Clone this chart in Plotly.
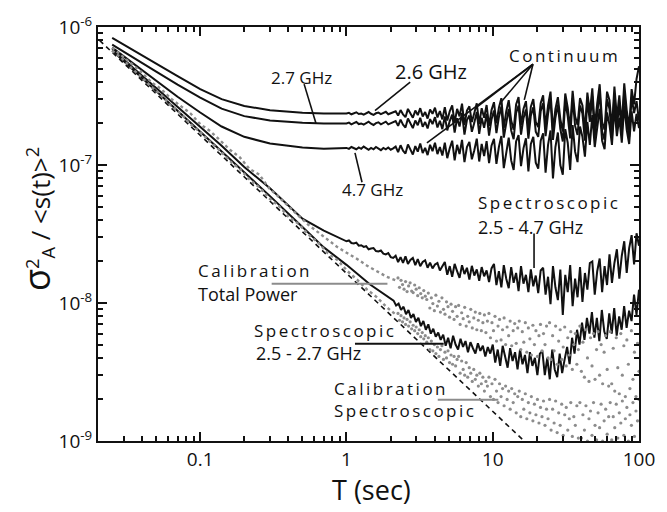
import numpy as np
import plotly.graph_objects as go

# ---------------- data ----------------
t_early = [0.025, 0.035, 0.05, 0.07, 0.1, 0.14, 0.2, 0.3, 0.5, 0.7]

# Continuum 2.6 GHz  (x1e-7)
c26_early = [8.35, 6.75, 5.45, 4.40, 3.55, 3.00, 2.68, 2.49, 2.39, 2.36]
c26_late = [2.36, 2.39, 2.33, 2.37, 2.41, 2.34, 2.36, 2.32, 2.38, 2.42, 2.35, 2.31, 2.37, 2.40, 2.34, 2.38, 2.43, 2.33, 2.36, 2.39,
            2.45, 2.28, 2.50, 2.33, 2.22, 2.55, 2.38, 2.20, 2.48, 2.30, 2.58, 2.25, 2.42, 2.17, 2.52, 2.35, 2.60, 2.21, 2.46, 2.14,
            2.62, 2.10, 2.45, 2.70, 2.02, 2.55, 2.25, 2.78, 1.95, 2.48, 2.66, 2.05, 2.38, 2.80, 1.98, 2.58, 2.20, 2.72, 1.92, 2.50,
            2.85, 2.00, 2.60, 3.05, 1.85, 2.45, 2.95, 2.10, 1.80, 2.75, 3.10, 1.95, 2.55, 2.90, 1.82, 2.65, 3.00, 2.05, 1.88, 2.80,
            3.20, 1.90, 2.70, 3.40, 1.80, 2.55, 3.10, 2.15, 1.75, 3.30, 2.60, 1.85, 3.45, 2.25, 1.95, 3.05, 2.70, 1.78, 3.35, 2.40,
            3.60, 1.90, 2.80, 3.85, 2.05, 1.80, 3.40, 2.95, 1.85, 3.70, 2.20, 3.20, 1.95, 3.90, 2.50, 1.88, 3.55, 2.75, 4.20, 5.20]
# Continuum 2.7 GHz  (x1e-7)
c27_early = [7.44, 5.95, 4.75, 3.82, 3.08, 2.56, 2.26, 2.10, 2.02, 2.00]
c27_late = [2.00, 2.03, 1.97, 2.01, 2.05, 1.98, 2.00, 1.96, 2.02, 2.06, 1.99, 1.95, 2.01, 2.04, 1.97, 2.02, 2.06, 1.97, 2.00, 2.03,
            2.08, 1.92, 2.13, 1.96, 1.87, 2.17, 2.01, 1.85, 2.10, 1.94, 2.20, 1.89, 2.05, 1.84, 2.15, 1.98, 2.22, 1.87, 2.09, 1.82,
            2.25, 1.78, 2.08, 2.32, 1.72, 2.18, 1.90, 2.38, 1.66, 2.12, 2.28, 1.74, 2.02, 2.42, 1.68, 2.20, 1.86, 2.35, 1.63, 2.14,
            2.48, 1.70, 2.22, 2.65, 1.58, 2.08, 2.55, 1.78, 1.54, 2.38, 2.70, 1.66, 2.18, 2.52, 1.55, 2.28, 2.62, 1.74, 1.60, 2.45,
            2.80, 1.62, 2.35, 3.00, 1.52, 2.20, 2.75, 1.82, 1.48, 2.90, 2.25, 1.56, 3.05, 1.92, 1.65, 2.70, 2.35, 1.50, 2.95, 2.05,
            3.15, 1.60, 2.45, 3.40, 1.75, 1.52, 3.00, 2.55, 1.58, 3.25, 1.88, 2.80, 1.65, 3.45, 2.15, 1.60, 3.10, 2.38, 2.90, 2.10]
# Continuum 4.7 GHz  (x1e-7)
c47_early = [7.09, 5.40, 4.08, 3.12, 2.40, 1.90, 1.60, 1.43, 1.34, 1.31]
c47_late = [1.33, 1.31, 1.35, 1.32, 1.30, 1.34, 1.31, 1.36, 1.32, 1.29, 1.33, 1.30, 1.35, 1.31, 1.28, 1.33, 1.30, 1.34, 1.29, 1.32,
            1.36, 1.24, 1.39, 1.27, 1.21, 1.41, 1.29, 1.19, 1.37, 1.25, 1.43, 1.22, 1.33, 1.18, 1.40, 1.26, 1.45, 1.20, 1.35, 1.17,
            1.45, 1.12, 1.32, 1.50, 1.08, 1.40, 1.20, 1.52, 1.05, 1.35, 1.47, 1.10, 1.28, 1.55, 1.06, 1.42, 1.16, 1.49, 1.03, 1.38,
            1.55, 1.02, 1.35, 1.62, 0.95, 1.28, 1.58, 1.08, 0.92, 1.48, 1.65, 0.98, 1.32, 1.56, 0.90, 1.42, 1.60, 1.04, 0.94, 1.50,
            1.70, 0.88, 1.40, 1.78, 0.80, 1.35, 1.72, 1.00, 0.85, 1.82, 1.45, 0.92, 1.95, 1.25, 1.05, 1.90, 1.60, 1.15, 2.05, 1.40,
            2.30, 1.35, 1.85, 2.55, 1.50, 1.30, 2.40, 1.95, 1.40, 2.60, 1.62, 2.20, 1.45, 2.70, 1.80, 1.42, 2.45, 1.75, 2.35, 1.85]
cont_t_start, cont_t_end = 1.0, 100.0

# Spectroscopic 2.5 - 4.7 GHz (x1e-8)
s47_early = [69.7, 50.2, 36.1, 26.5, 19.1, 13.8, 9.68, 6.78, 4.08, 3.35]
s47_late = [2.80, 2.84, 2.72, 2.70, 2.74, 2.60, 2.62, 2.55, 2.58, 2.45, 2.48, 2.50, 2.38, 2.36, 2.40, 2.28, 2.25, 2.30, 2.15, 2.12,
            2.20, 1.98, 2.15, 1.95, 2.18, 1.92, 2.05, 2.12, 1.88, 2.08, 1.85, 1.98, 2.04, 1.80, 1.96, 1.78, 1.90, 1.95, 1.72, 1.86,
            1.98, 1.60, 1.85, 1.55, 1.92, 1.70, 1.52, 1.88, 1.62, 1.80, 1.48, 1.86, 1.58, 1.75, 1.45, 1.82, 1.56, 1.72, 1.42, 1.78,
            1.92, 1.35, 1.70, 1.30, 1.88, 1.50, 1.28, 1.82, 1.40, 1.65, 1.22, 1.85, 1.38, 1.60, 1.20, 1.75, 1.32, 1.58, 1.18, 1.72,
            1.80, 1.15, 1.55, 0.98, 1.85, 1.30, 1.05, 1.75, 0.82, 1.60, 1.20, 1.88, 0.95, 1.50, 1.10, 1.82, 1.02, 1.65, 1.25, 1.95,
            2.00, 1.15, 1.70, 2.10, 1.20, 1.85, 1.35, 2.25, 1.40, 1.95, 2.45, 1.50, 2.20, 2.80, 1.65, 2.50, 3.10, 1.90, 3.20, 2.60]

# Spectroscopic 2.5 - 2.7 GHz
s27_t_early = [0.025, 0.035, 0.05, 0.07, 0.1, 0.14, 0.2, 0.3, 0.5, 0.7, 1.0, 1.45]
s27_early = [67.5, 48.6, 34.4, 24.8, 17.6, 12.7, 8.96, 5.95, 3.55, 2.53, 1.89, 1.36]   # x1e-8
s27_late = [10.4, 9.6, 9.9, 8.9, 9.4, 8.3, 8.9, 7.8, 8.3, 7.3, 7.8, 6.8, 7.4, 6.4, 7.0, 6.0, 6.5, 5.7, 6.1, 5.4,
            5.9, 4.9, 5.6, 4.7, 5.8, 5.0, 4.6, 5.5, 4.8, 5.3, 4.4, 5.2, 4.7, 4.3, 5.1, 4.5, 4.9, 4.1, 4.8, 4.3,
            5.0, 3.7, 4.6, 3.5, 4.9, 4.0, 3.4, 4.7, 3.8, 4.4, 3.3, 4.6, 3.6, 4.2, 3.1, 4.4, 3.5, 4.0, 3.0, 4.3,
            4.5, 3.0, 4.0, 2.8, 4.6, 3.3, 2.9, 4.3, 3.1, 3.9, 4.8, 3.6, 5.6, 4.3, 6.4, 5.0, 7.2, 5.4, 7.8, 6.0,
            8.6, 5.6, 7.8, 5.3, 8.9, 6.2, 5.5, 8.4, 6.0, 9.2, 5.8, 8.0, 6.4, 9.5, 6.6, 8.8, 7.4, 11.5, 8.2, 12.5]  # x1e-9
s27_t_late_start = 2.1

# Calibration series (gray)
cal_t_early = (0.025, 2.2)
tp_early = [70.9, 62.1, 53.6, 47.0, 39.8, 35.5, 30.2, 26.5, 23.6, 19.7,
            17.6, 15.1, 12.9, 11.4, 9.37, 8.53, 6.78, 5.85, 4.96, 4.28,
            3.69, 3.24, 2.84, 2.53, 2.29, 2.08, 1.86, 1.70, 1.55, 1.45]   # x1e-8
tp_late = [15.2, 13.0, 14.6, 13.6, 12.6, 14.3, 12.1, 13.3, 14.0, 12.2, 11.9, 13.5, 12.6, 11.3, 12.9, 11.7, 10.9, 12.3, 11.2, 10.6,
           11.8, 9.2, 10.9, 9.9, 8.8, 11.4, 9.5, 10.3, 8.6, 10.9, 9.0, 8.3, 10.2, 9.4, 7.9, 9.8, 8.7, 7.6, 9.4, 8.0,
           9.6, 7.0, 8.5, 7.7, 9.3, 6.8, 8.0, 7.3, 9.0, 6.6, 7.8, 8.6, 6.4, 7.5, 8.4, 6.3, 7.2, 8.2, 6.1, 7.4,
           8.4, 5.6, 7.2, 6.3, 8.0, 5.3, 6.8, 7.6, 5.4, 6.4, 7.8, 5.0, 6.7, 5.8, 7.4, 4.9, 6.3, 7.1, 5.1, 6.6,
           7.4, 4.6, 6.2, 5.2, 7.2, 4.4, 6.6, 5.5, 4.2, 6.9, 5.0, 6.3, 4.1, 5.8, 7.0, 4.5, 6.0, 5.0, 6.8, 4.0,
           7.2, 3.9, 5.8, 4.5, 6.8, 3.6, 5.3, 6.4, 3.9, 4.8, 6.7, 3.5, 5.6, 4.2, 6.2, 3.3, 5.0, 6.0, 3.6, 4.6,
           6.8, 3.2, 5.2, 2.9, 6.4, 4.0, 2.7, 5.6, 3.5, 6.0, 2.8, 4.6, 6.2, 3.0, 5.0, 2.6, 4.4, 5.8, 3.3, 2.5,
           6.2, 2.6, 4.7, 2.3, 5.6, 3.4, 2.2, 6.0, 3.0, 4.9, 2.1, 5.4, 3.6, 2.4, 6.3, 2.8, 4.4, 2.1, 5.1, 3.2]   # x1e-9
cs_early = [67.5, 59.1, 50.2, 43.3, 36.7, 32.2, 26.9, 23.6, 19.7, 17.3,
            14.7, 12.7, 10.7, 9.37, 7.86, 6.89, 5.75, 5.04, 4.21, 3.75,
            3.14, 2.74, 2.29, 2.04, 1.70, 1.47, 1.25, 1.10, 0.931, 0.816]  # x1e-8
cs_late = [8.4, 7.5, 8.1, 7.3, 7.8, 7.0, 7.6, 6.8, 7.3, 6.5, 6.9, 6.3, 6.7, 6.0, 6.4, 5.7, 6.1, 5.5, 5.8, 5.2,
           5.6, 4.6, 5.3, 4.5, 5.0, 4.3, 4.8, 4.1, 4.6, 4.9, 3.9, 4.4, 4.0, 4.5, 3.7, 4.2, 3.6, 4.1, 3.5, 3.9,
           4.1, 3.1, 3.8, 3.3, 3.0, 3.7, 2.9, 3.4, 3.1, 2.7, 3.3, 2.8, 3.0, 2.5, 3.1, 2.6, 2.9, 2.3, 2.7, 2.5,
           2.9, 2.1, 2.6, 2.0, 2.8, 2.3, 1.9, 2.6, 2.1, 2.4, 1.8, 2.5, 2.0, 2.3, 1.7, 2.4, 1.9, 2.2, 1.6, 2.1,
           2.3, 1.5, 2.0, 1.7, 2.2, 1.45, 1.9, 1.6, 2.1, 1.4, 1.85, 1.55, 2.0, 1.35, 1.75, 1.5, 1.95, 1.3, 1.7, 1.45,
           2.0, 1.2, 1.7, 1.35, 1.95, 1.15, 1.6, 1.3, 1.85, 1.1, 1.55, 1.75, 1.2, 1.45, 1.9, 1.08, 1.5, 1.3, 1.8, 1.05,
           1.9, 1.05, 1.55, 1.2, 1.8, 1.0, 1.45, 1.65, 1.1, 1.9, 1.3, 1.02, 1.6, 1.25, 1.85, 1.0, 1.4, 1.7, 1.12, 1.5,
           1.9, 1.02, 1.5, 1.25, 1.85, 1.05, 1.6, 1.35, 1.95, 1.1, 1.45, 1.75, 1.0, 1.55, 1.3, 1.9, 1.08, 1.65, 1.4, 2.0]   # x1e-9
cal_t_late = (2.25, 100.0)

# white-noise reference (dashed)
ref_t = [0.0205, 16.0]
ref_v = [8.0e-7, 1.025e-9]

x_ticks = [0.1, 1, 10, 100]
x_ticktext = ["0.1", "1", "10", "100"]
y_ticks = [1e-9, 1e-8, 1e-7, 1e-6]
y_ticktext = ["10<sup>-9</sup>", "10<sup>-8</sup>", "10<sup>-7</sup>", "10<sup>-6</sup>"]

# ---------------- figure ----------------
FONT = "Open Sans"
BLACK = "#111111"
GRAY = "#8c8c8c"

fig = go.Figure()


def black_curve(t, v):
    fig.add_trace(go.Scatter(x=t, y=v, mode="lines",
                             line=dict(color=BLACK, width=2.0),
                             hoverinfo="skip", showlegend=False))


t_cont_late = np.geomspace(cont_t_start, cont_t_end, len(c26_late))
for early, late in [(c47_early, c47_late), (c27_early, c27_late), (c26_early, c26_late)]:
    black_curve(list(t_early) + list(t_cont_late),
                list(np.array(early) * 1e-7) + list(np.array(late) * 1e-7))

black_curve(list(t_early) + list(np.geomspace(1.0, 100.0, len(s47_late))),
            list(np.array(s47_early) * 1e-8) + list(np.array(s47_late) * 1e-8))
black_curve(list(s27_t_early) + list(np.geomspace(s27_t_late_start, 100.0, len(s27_late))),
            list(np.array(s27_early) * 1e-8) + list(np.array(s27_late) * 1e-9))

fig.add_trace(go.Scatter(x=ref_t, y=ref_v, mode="lines",
                         line=dict(color=BLACK, width=1.6, dash="5px,4px"),
                         hoverinfo="skip", showlegend=False))

t_cal_early = np.geomspace(cal_t_early[0], cal_t_early[1], len(tp_early))
t_cal_late = np.geomspace(cal_t_late[0], cal_t_late[1], len(tp_late))
for early, late in [(tp_early, tp_late), (cs_early, cs_late)]:
    fig.add_trace(go.Scatter(x=t_cal_early, y=np.array(early) * 1e-8, mode="lines",
                             line=dict(color=GRAY, width=2.4, dash="dot"),
                             hoverinfo="skip", showlegend=False))
    fig.add_trace(go.Scatter(x=t_cal_late, y=np.array(late) * 1e-9, mode="markers",
                             marker=dict(color=GRAY, size=3.2),
                             hoverinfo="skip", showlegend=False))

# invisible trace that carries the minor-tick overlay axes
fig.add_trace(go.Scatter(x=[None], y=[None], xaxis="x2", yaxis="y2", mode="markers",
                         hoverinfo="skip", showlegend=False))

# ---------------- labels ----------------
def ann(text, x, y, size=17, xanchor="center", spacing=0):
    if spacing:
        text = f'<span style="letter-spacing:{spacing}px">{text}</span>'
    fig.add_annotation(text=text, x=x, y=y, xref="paper", yref="paper",
                       xanchor=xanchor, yanchor="middle", showarrow=False,
                       font=dict(family=FONT, size=size, color=BLACK))


def leader(x0, y0, x1, y1, color=BLACK, width=1.6):
    fig.add_shape(type="line", xref="paper", yref="paper", x0=x0, y0=y0, x1=x1, y1=y1,
                  line=dict(color=color, width=width))


ann("2.7 GHz", 0.376, 0.879, 17)
leader(0.381, 0.862, 0.403, 0.767)
ann("2.6 GHz", 0.615, 0.893, 20)
leader(0.577, 0.867, 0.512, 0.798)
ann("4.7 GHz", 0.508, 0.608, 17)
leader(0.475, 0.696, 0.488, 0.625)
ann("Continuum", 0.862, 0.931, 17, spacing=2.5)
for (xe, ye) in [(0.702, 0.808), (0.744, 0.817), (0.788, 0.824), (0.608, 0.720)]:
    leader(0.804, 0.910, xe, ye)
ann("Spectroscopic", 0.699, 0.577, 17, xanchor="left", spacing=2.5)
ann("2.5 - 4.7 GHz", 0.699, 0.518, 18, xanchor="left")
leader(0.806, 0.501, 0.806, 0.418)
ann("Calibration", 0.181, 0.411, 17, xanchor="left", spacing=2.5)
ann("Total Power", 0.181, 0.354, 18, xanchor="left")
leader(0.321, 0.380, 0.535, 0.380, color=GRAY, width=2)
ann("Spectroscopic", 0.285, 0.268, 17, xanchor="left", spacing=2.5)
ann("2.5 - 2.7 GHz", 0.289, 0.213, 18, xanchor="left")
leader(0.475, 0.235, 0.639, 0.235, width=2)
ann("Calibration", 0.432, 0.128, 17, xanchor="left", spacing=2.5)
ann("Spectroscopic", 0.432, 0.073, 17, xanchor="left", spacing=2.5)
leader(0.628, 0.0998, 0.740, 0.0998, color=GRAY, width=2)

fig.add_annotation(text='<span style="font-size:36px">σ</span><sup>2</sup><sub>A</sub> / &lt;s(t)&gt;<sup>2</sup>',
                   x=-0.114, y=0.537, xref="paper", yref="paper", textangle=-90,
                   xanchor="center", yanchor="middle",
                   showarrow=False, font=dict(family=FONT, size=26, color=BLACK))
fig.add_annotation(text="T (sec)", x=0.506, y=-0.118, xref="paper", yref="paper",
                   xanchor="center", yanchor="middle",
                   showarrow=False, font=dict(family=FONT, size=27, color=BLACK))

x_minor = [m * 10.0 ** e for e in range(-2, 2) for m in range(2, 10) if m * 10.0 ** e >= 0.02]
y_minor = [m * 10.0 ** e for e in range(-9, -6) for m in range(2, 10)]
x_range = [np.log10(0.02), 2]
y_range = [-9, -6]

axis_common = dict(showline=True, linecolor=BLACK, linewidth=2, mirror="allticks",
                   ticks="inside", ticklen=9, tickwidth=2, tickcolor=BLACK,
                   showgrid=False, zeroline=False,
                   tickfont=dict(family=FONT, size=19, color=BLACK))
minor_common = dict(showline=False, mirror="ticks", ticks="inside", ticklen=5,
                    tickwidth=1.5, tickcolor=BLACK, showgrid=False, zeroline=False,
                    showticklabels=False, tickmode="array")

fig.update_layout(
    xaxis=dict(type="log", range=x_range, tickmode="array",
               tickvals=x_ticks, ticktext=x_ticktext, **axis_common),
    yaxis=dict(type="log", range=y_range, tickmode="array",
               tickvals=y_ticks, ticktext=y_ticktext, **axis_common),
    xaxis2=dict(type="log", range=x_range, overlaying="x", anchor="y2", side="bottom",
                tickvals=x_minor, **minor_common),
    yaxis2=dict(type="log", range=y_range, overlaying="y", anchor="x2", side="left",
                tickvals=y_minor, **minor_common),
)

fig.update_layout(width=667, height=512, paper_bgcolor="white", plot_bgcolor="white",
                  margin=dict(l=98, r=18, t=20, b=71), showlegend=False,
                  font=dict(family=FONT, color=BLACK))

fig.write_html("out.html")
